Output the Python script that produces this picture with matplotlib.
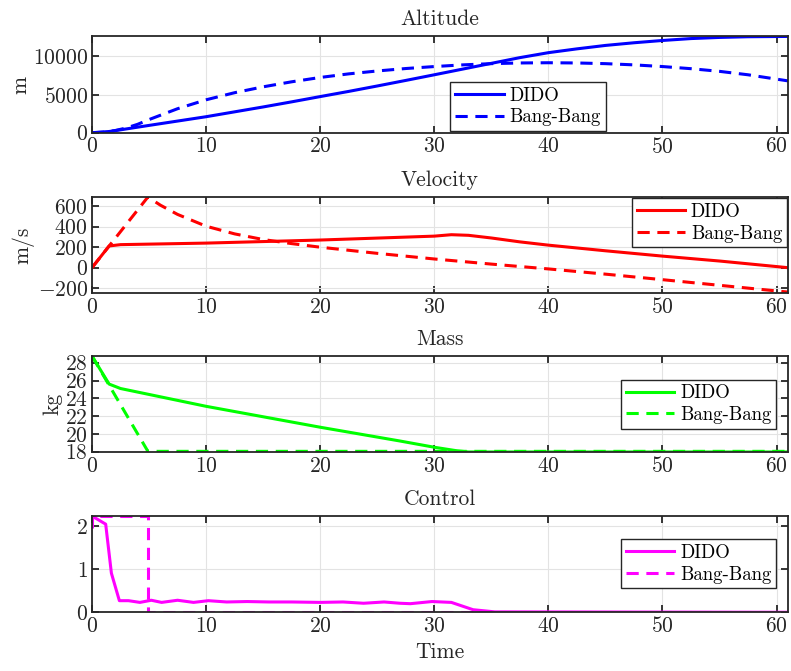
import numpy as np
import matplotlib
matplotlib.use('Agg')
import matplotlib.pyplot as plt

plt.rcParams['font.family'] = 'serif'
plt.rcParams['font.serif'] = ['cmr10']
plt.rcParams['mathtext.fontset'] = 'cm'
plt.rcParams['axes.formatter.use_mathtext'] = True

# Altitude (m)
t_alt = [0, 1.5, 2.5, 5, 7.5, 10, 12.5, 15, 17.5, 20, 22.5, 25, 27.5, 30, 32.5,
         35, 37.5, 40, 42.5, 45, 47.5, 50, 52.5, 55, 57.5, 61]
alt_dido = [0, 160, 380, 960, 1530, 2100, 2740, 3380, 4050, 4740, 5420, 6130, 6860,
            7600, 8350, 9100, 9850, 10500, 11000, 11450, 11800, 12100, 12350, 12500,
            12590, 12630]
t_alt_bb = [0, 1, 2, 3, 4, 5, 7.5, 10, 12.5, 15, 17.5, 20, 22.5, 25, 27.5, 30, 32.5,
            35, 37.5, 40, 42.5, 45, 47.5, 50, 52.5, 55, 57.5, 61]
alt_bb = [0, 69, 276, 621, 1104, 1725, 3150, 4320, 5250, 6020, 6680, 7250, 7720,
          8100, 8420, 8680, 8900, 9060, 9150, 9180, 9150, 9060, 8900, 8680, 8400,
          8050, 7600, 6800]

# Velocity (m/s)
t_vel = [0, 1.5, 2.5, 10, 20, 30, 31.5, 33, 35, 37.5, 40, 45, 50, 55, 61]
vel_dido = [0, 212, 225, 240, 270, 308, 322, 316, 290, 252, 220, 165, 113, 65, 0]
t_vel_bb = [0, 4.9, 6, 7.5, 10, 12.5, 15, 17.5, 20, 25, 30, 35, 40, 45, 50, 55, 61]
vel_bb = [0, 690, 610, 520, 405, 330, 275, 235, 200, 140, 85, 35, -12, -63, -117,
          -172, -238]

# Mass (kg)
t_mass = [0, 1.5, 2.5, 10, 20, 27, 30, 32, 33, 61]
mass_dido = [28.75, 25.6, 25.1, 23.1, 20.75, 19.2, 18.5, 18.1, 17.97, 17.97]
t_mass_bb = [0, 4.9, 61]
mass_bb = [28.75, 18.04, 18.04]

# Control
t_ctrl = [0, 1.2, 1.7, 2.4, 3.2, 4.2, 5.2, 6.1, 7.5, 8.9, 10.2, 11.8, 13.6, 15.5,
          17.5, 20, 22, 23.8, 25.6, 27.0, 27.9, 29.8, 31.5, 33.4, 35.3, 61]
ctrl_dido = [2.24, 2.05, 0.91, 0.27, 0.27, 0.23, 0.28, 0.23, 0.28, 0.23, 0.27, 0.24,
             0.25, 0.24, 0.24, 0.23, 0.24, 0.21, 0.24, 0.21, 0.20, 0.25, 0.23, 0.06,
             0.01, 0.0]
t_ctrl_bb = [0, 0, 4.9, 4.9, 61]
ctrl_bb = [1.95, 2.24, 2.24, 0, 0]

panels = [
    ('Altitude', 'm', 'b', t_alt, alt_dido, t_alt_bb, alt_bb, [0, 5000, 10000]),
    ('Velocity', 'm/s', 'r', t_vel, vel_dido, t_vel_bb, vel_bb, [-200, 0, 200, 400, 600]),
    ('Mass', 'kg', '#00ff00', t_mass, mass_dido, t_mass_bb, mass_bb, [18, 20, 22, 24, 26, 28]),
    ('Control', '', 'magenta', t_ctrl, ctrl_dido, t_ctrl_bb, ctrl_bb, [0, 1, 2]),
]
ylims = [(0, 12630), (-250, 690), (17.93, 28.75), (0, 2.24)]
legend_pos = [('lower left', (0.515, 0.018)), ('upper right', (0.9985, 0.987)),
              ('upper right', (0.983, 0.756)), ('upper right', (0.983, 0.759))]
bottoms = [0.8022, 0.5629, 0.3259, 0.0875]

dark = '#262626'
fig = plt.figure(figsize=(7.91, 6.71), dpi=100)

for i, (title, ylab, col, t1, y1, t2, y2, yt) in enumerate(panels):
    ax = fig.add_axes([0.1163, bottoms[i], 0.8799, 0.1435])
    ax.plot(t1, y1, color=col, lw=2.2, label='DIDO')
    ax.plot(t2, y2, color=col, lw=2.2, ls=(0, (4, 2.5)), label='Bang-Bang')
    ax.set_xlim(0, 61)
    ax.set_ylim(*ylims[i])
    ax.set_xticks(range(0, 61, 10))
    ax.set_yticks(yt)
    ax.grid(True, color='#e3e3e3', lw=0.8)
    ax.set_axisbelow(True)
    ax.tick_params(direction='in', top=True, right=True, length=5, width=1.3,
                   colors=dark, labelsize=15.5, pad=3)
    for s in ax.spines.values():
        s.set_color(dark)
        s.set_linewidth(1.3)
    ax.set_title(title, fontsize=15.5, color=dark, pad=8)
    if ylab:
        ax.set_ylabel(ylab, fontsize=15.5, color=dark, labelpad=2)
    if i == 3:
        ax.set_xlabel('Time', fontsize=15.5, color=dark, labelpad=4)
    loc, anchor = legend_pos[i]
    leg = ax.legend(loc=loc, bbox_to_anchor=anchor, borderaxespad=0, fontsize=13.5,
                    fancybox=False, framealpha=1, edgecolor=dark, handlelength=2.6,
                    handletextpad=0.3, labelspacing=0.2, borderpad=0.25)
    leg.get_frame().set_linewidth(1.0)

fig.savefig('out.png', dpi=100)
